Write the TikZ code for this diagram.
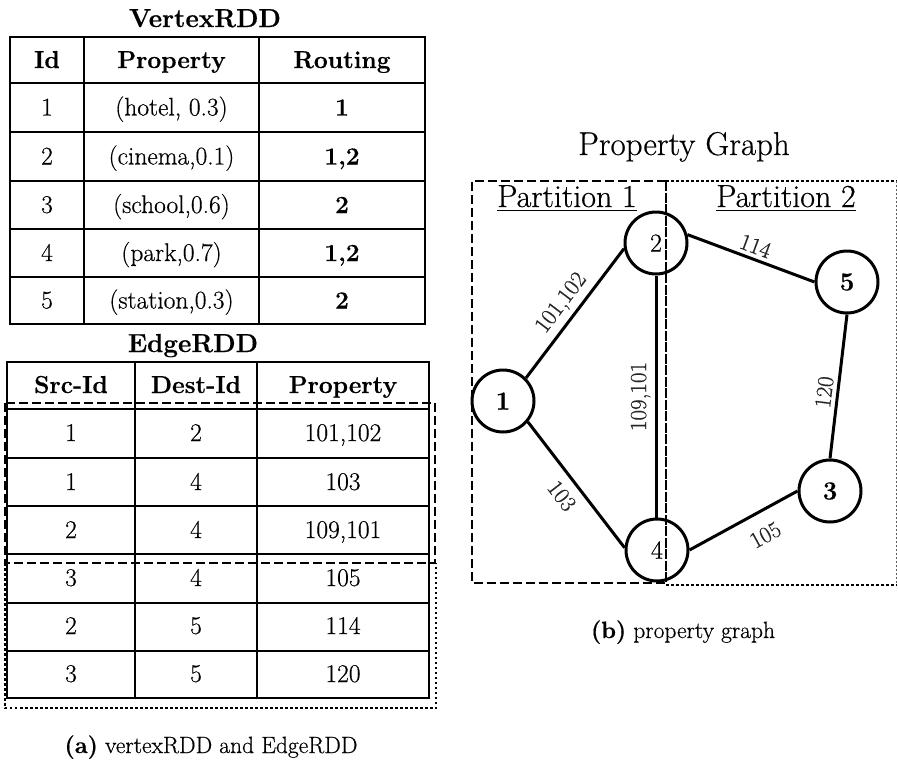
\documentclass[tikz,border=0pt]{standalone}
\usepackage{fontspec}
\setmainfont{Latin Modern Roman}[FakeBold=0.5]
\begin{document}
\begin{tikzpicture}[x=1pt,y=-1pt,
  tline/.style={line width=1.8pt},
  cell/.style={anchor=base,inner sep=0pt,font=\fontsize{25.5}{30}\selectfont},
  hcell/.style={anchor=base,inner sep=0pt,font=\fontsize{24.5}{29}\selectfont\bfseries},
  ttl/.style={anchor=base,inner sep=0pt,font=\fontsize{26}{31}\selectfont\bfseries},
  gtitle/.style={anchor=base,inner sep=0pt,font=\fontsize{33}{39}\selectfont},
  ptitle/.style={anchor=base,inner sep=0pt,font=\fontsize{32}{38}\selectfont},
  capt/.style={anchor=base,inner sep=0pt,font=\fontsize{23.5}{28}\selectfont},
  vtx/.style={circle,draw,line width=3pt,minimum size=62pt,inner sep=0pt,font=\fontsize{26}{30}\selectfont},
  gedge/.style={line width=3pt},
  elab/.style={font=\fontsize{23}{27}\selectfont,text=black!85,inner sep=1pt,sloped},
  dashbox/.style={line width=2.8pt,dash pattern=on 9pt off 4pt},
  dotbox/.style={line width=2.8pt,dash pattern=on 2.5pt off 2.5pt},
]
\useasboundingbox (0,0) rectangle (898,761);

% ---------- VertexRDD ----------
\node[ttl] (vtitle) at (205,27) {VertexRDD};
\draw[tline] (10,37) rectangle (425,324);
\foreach \y in {83,132,181,229,277} \draw[tline] (10,\y) -- (425,\y);
\foreach \x in {84,259} \draw[tline] (\x,37) -- (\x,324);
\node[hcell] (vh1) at (47,68) {Id};
\node[hcell] (vh2) at (171.5,68) {Property};
\node[hcell] (vh3) at (342,68) {Routing};
\foreach \i/\p/\r/\yy in {1/{(hotel, 0.3)}/{1}/115.5, 2/{(cinema,0.1)}/{1,2}/164.5, 3/{(school,0.6)}/{2}/213, 4/{(park,0.7)}/{1,2}/261, 5/{(station,0.3)}/{2}/308.5}{
  \node[cell] (vid\i) at (47,\yy) {\i};
  \node[cell] (vprop\i) at (171.5,\yy) {\p};
  \node[cell,font=\fontsize{24.5}{29}\selectfont\bfseries] (vrt\i) at (342,\yy) {\r};
}

% ---------- EdgeRDD ----------
\node[ttl] (etitle) at (193,352) {EdgeRDD};
\draw[tline] (7,362) rectangle (429,698);
\foreach \y in {409,458,506,554,603,651} \draw[tline] (7,\y) -- (429,\y);
\foreach \x in {135,257} \draw[tline] (\x,362) -- (\x,698);
\node[hcell] (eh1) at (71,393) {Src-Id};
\node[hcell] (eh2) at (196,393) {Dest-Id};
\node[hcell] (eh3) at (343,393) {Property};
\foreach \s/\d/\p/\yy [count=\k] in {1/2/{101,102}/441, 1/4/{103}/490, 2/4/{109,101}/538, 3/4/{105}/586, 2/5/{114}/634, 3/5/{120}/682}{
  \node[cell] (es\k) at (71,\yy) {\s};
  \node[cell] (ed\k) at (196,\yy) {\d};
  \node[cell] (ep\k) at (343,\yy) {\p};
}
\draw[dotbox] (5,563) -- (5,708) -- (436,708) -- (436,563);
\draw[dashbox] (5,403) rectangle (435,563);

\node[capt] (capa) at (211,753) {\textbf{(a)} vertexRDD and EdgeRDD};

% ---------- Property graph ----------
\node[gtitle] (gtitle) at (684,155) {Property Graph};

\draw[dashbox] (666,181) -- (472,181) -- (472,583) -- (666,583);
\draw[dotbox] (666,181) -- (896.5,181);
\draw[line width=1pt,dash pattern=on 2pt off 2pt,black!65] (896.5,181) -- (896.5,585);
\draw[line width=2pt,dash pattern=on 2.5pt off 2.5pt] (666,585) -- (896.5,585);
\draw[line width=2.8pt,dash pattern=on 10pt off 1.5pt] (666,181) -- (666,583);

\node[ptitle] (p1) at (567,207) {Partition 1};
\node[ptitle] (p2) at (786,207) {Partition 2};
\draw[line width=1.4pt] ([yshift=-3.5pt]p1.base west) -- ([yshift=-3.5pt]p1.base east);
\draw[line width=1.4pt] ([yshift=-3.5pt]p2.base west) -- ([yshift=-3.5pt]p2.base east);

\node[vtx,font=\fontsize{26}{30}\selectfont\bfseries] (n1) at (503,401) {1};
\node[vtx] (n2) at (656,243) {2};
\node[vtx,font=\fontsize{26}{30}\selectfont\bfseries] (n3) at (830,491) {3};
\node[vtx] (n4) at (657,550) {4};
\node[vtx,font=\fontsize{26}{30}\selectfont\bfseries] (n5) at (847,282) {5};

\draw[gedge] (n1.45) -- node[elab,above=4pt] {101,102} (n2.190);
\draw[gedge] (n1.-40) -- node[elab,below=8pt] {103} (n4.176);
\draw[gedge] (n2.south |- n4.north) -- node[elab,above=3pt] {109,101} (n2.south);
\draw[gedge] (n2.15) -- node[elab,above=3pt] {114} (n5.west);
\draw[gedge] (n3.north) -- node[elab,above=3pt,pos=0.45] {120} (n5.south);
\draw[gedge] (n4.east) -- node[elab,below=13pt,pos=0.6] {105} (n3.west);

\node[capt] (capb) at (683,638) {\textbf{(b)} property graph};
\end{tikzpicture}
\end{document}
